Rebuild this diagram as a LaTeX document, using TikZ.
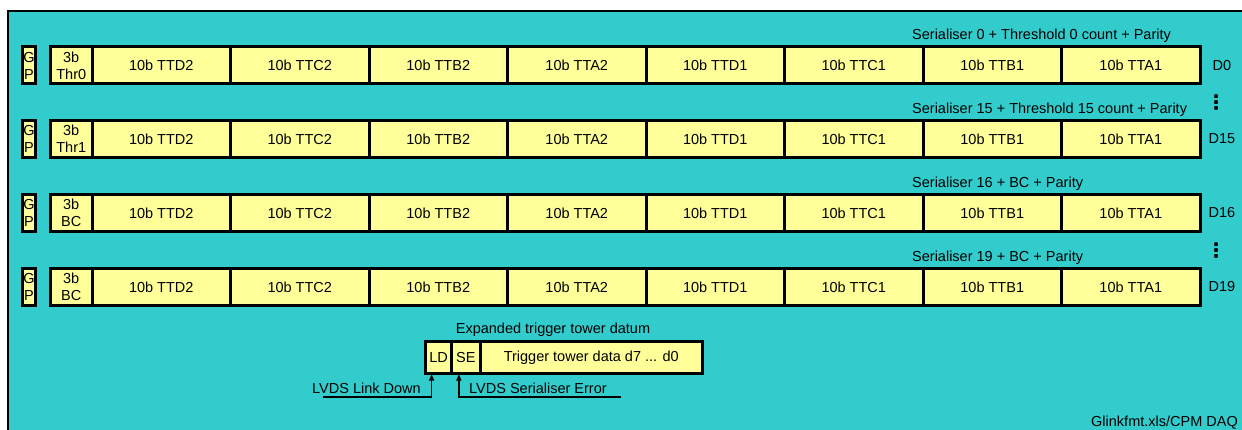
\documentclass[tikz,border=0pt]{standalone}
\usepackage{fontspec}
\setmainfont{Liberation Sans}
\newfontfamily\symfont{DejaVu Sans}
\usetikzlibrary{positioning, arrows.meta}
\definecolor{myteal}{RGB}{51,204,204}
\definecolor{myyellow}{RGB}{255,255,153}

\begin{document}
\begin{tikzpicture}[x=1pt, y=-1pt,
		font=\fontsize{14.5}{17}\selectfont,
		cell/.style={rectangle, draw, line width=3pt, fill=myyellow, outer sep=0pt, inner sep=0pt, minimum height=37pt, text centered},
		gpbox/.style={cell, minimum width=13pt, align=center},
		hdcell/.style={cell, minimum width=41.5pt, align=center},
		ttcell/.style={cell, minimum width=138.5pt},
		bitcell/.style={cell, minimum height=32pt},
		caption/.style={inner sep=0pt, anchor=west},
		tag/.style={inner sep=0pt},
		dots/.style={tag, font=\symfont\bfseries\fontsize{20}{24}\selectfont},
		arrow/.style={line width=1.3pt, -{Latex[length=7pt,width=6pt]}}
		]
		
		% Background
		\useasboundingbox (0,0) rectangle (1242,430);
		\fill[myteal] (8,11) rectangle (1250,440);
		\draw[line width=2pt] (1250,11) -- (8,11) -- (8,440);
		
		% Serialiser rows
		\foreach \r/\yc/\hd/\dd/\cap in {
			0/65.5/Thr0/D0/{Serialiser 0 + Threshold 0 count + Parity},
			15/139/Thr1/D15/{Serialiser 15 + Threshold 15 count + Parity},
			16/213/BC/D16/{Serialiser 16 + BC + Parity},
			19/287/BC/D19/{Serialiser 19 + BC + Parity}} {
			\node[gpbox] (gp\r) at (29,\yc) {G\\P};
			\node[hdcell] (c\r-0) at (71.25,\yc) {3b\\\hd};
			\foreach \t [count=\i, remember=\i as \j (initially 0)] in {TTD2,TTC2,TTB2,TTA2,TTD1,TTC1,TTB1,TTA1}
				\node[ttcell, right=0pt of c\r-\j] (c\r-\i) {10b \t};
			\node[tag] (d\r) at (1222,\yc) {\dd};
			\node[caption] (cap\r) at (912,\yc-29.5) {\cap};
		}
		\node[dots] (dotsa) at (1216,103) {⋮};
		\node[dots] (dotsb) at (1216,251) {⋮};
		
		% Expanded datum
		\node[tag] (title) at (553,330) {Expanded trigger tower datum};
		\node[bitcell, minimum width=26.2pt] (ld) at (438.6,357.5) {LD};
		\node[bitcell, minimum width=28.3pt, right=0pt of ld] (se) {SE};
		\node[bitcell, minimum width=222.5pt, right=0pt of se] (tt) {Trigger tower data d7 ... d0};
		
		% Flags
		\node[caption] (ldtext) at (312,388) {LVDS Link Down};
		\node[caption] (setext) at (469,388) {LVDS Serialiser Error};
		\coordinate (ldfoot) at (323,397);
		\coordinate (sefoot) at (621,397);
		\draw[arrow] (ldfoot) -| ([xshift=-7pt]ld.south);
		\draw[arrow] (sefoot) -| ([xshift=-7pt]se.south);
		
		\node[tag, anchor=east] (src) at (1238,423) {Glinkfmt.xls/CPM DAQ};
		
	\end{tikzpicture}
\end{document}
